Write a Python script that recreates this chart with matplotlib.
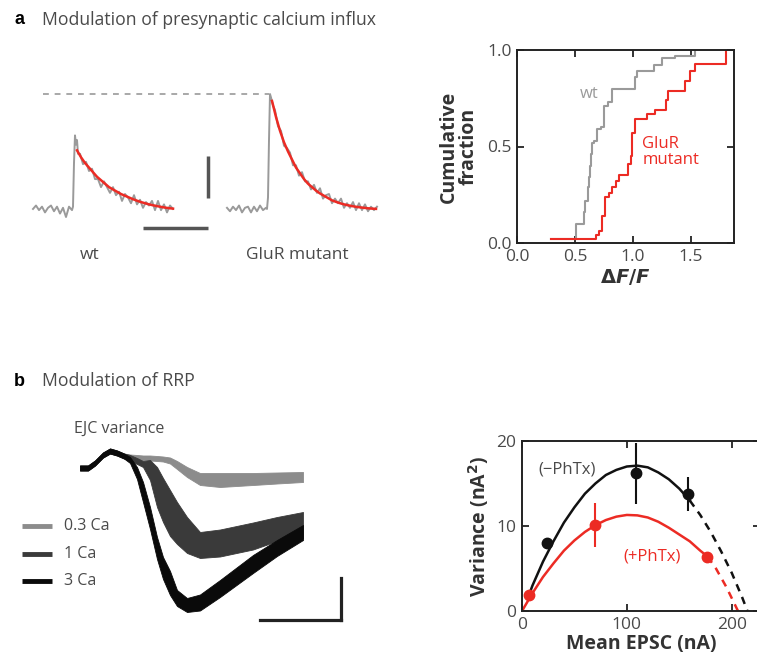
import numpy as np
import matplotlib
matplotlib.use("Agg")
import matplotlib.pyplot as plt

plt.rcParams['font.family'] = ['Open Sans', 'DejaVu Sans']

W, H = 757, 662
TXT = '#4a4a4a'
RED = '#ec2b24'
GRAY = '#9a9a9a'

# ---- panel a, traces (t relative to stimulus, amplitude normalised to mutant peak)
wt_t = [-40, -37, -34, -31, -28, -25, -22, -19, -16, -13, -10, -7, -4, -1,
        0, 1, 2, 3, 4, 5,
        7, 10, 13, 16, 19, 22, 25, 28, 31, 34, 37, 40, 43, 46, 49, 52, 55, 58,
        61, 64, 67, 70, 73, 76, 79, 82, 85, 88, 91, 94, 97, 100]
wt_amp = [0.00, 0.03, -0.01, 0.02, -0.03, 0.01, 0.03, -0.02, 0.02, -0.04, 0.01, -0.07, 0.02, -0.01,
          0.02, 0.40, 0.64, 0.56, 0.60, 0.48,
          0.48, 0.39, 0.41, 0.33, 0.35, 0.26, 0.26, 0.19, 0.24, 0.19, 0.14, 0.19, 0.12, 0.15,
          0.07, 0.13, 0.10, 0.05, 0.12, 0.04, 0.08, 0.01, 0.06, 0.03, 0.07, -0.01, 0.07,
          -0.01, 0.04, -0.03, 0.03, 0.00]
wt_fit_t = [4, 8, 12, 16, 20, 24, 28, 32, 36, 40, 44, 48, 52, 56, 60, 64, 68, 72, 76,
            80, 84, 88, 92, 96, 100]
wt_fit = [0.51, 0.45, 0.40, 0.36, 0.32, 0.28, 0.25, 0.22, 0.19, 0.17, 0.15, 0.13, 0.115,
          0.10, 0.085, 0.072, 0.06, 0.05, 0.04, 0.032, 0.025, 0.018, 0.012, 0.007, 0.003]

mut_t = [-41, -38, -35, -32, -29, -26, -23, -20, -17, -14, -11, -8, -5, -2,
         -1, 0, 1, 2, 3, 5,
         7, 10, 13, 16, 19, 22, 25, 28, 31, 34, 37, 40, 43, 46, 49, 52, 55, 58, 61,
         64, 67, 70, 73, 76, 79, 82, 85, 88, 91, 94, 97, 100, 103, 106, 109]
mut_amp = [0.01, -0.02, 0.02, -0.01, 0.03, -0.03, 0.01, 0.02, -0.03, 0.02, -0.02, 0.03, -0.01, 0.01,
           0.00, 0.10, 0.60, 1.00, 0.97, 0.90,
           0.86, 0.72, 0.68, 0.55, 0.53, 0.49, 0.38, 0.38, 0.29, 0.32, 0.24, 0.24, 0.17, 0.21,
           0.14, 0.18, 0.09, 0.12, 0.13, 0.05, 0.09, 0.05, 0.09, 0.01, 0.05, 0.01, 0.06,
           -0.01, 0.05, -0.01, 0.04, -0.02, 0.02, -0.01, 0.02]
mut_fit_t = [4, 8, 12, 16, 20, 24, 28, 32, 36, 40, 44, 48, 52, 56, 60, 64, 68, 72, 76,
             80, 84, 88, 92, 96, 100, 104, 108]
mut_fit = [0.94, 0.80, 0.68, 0.58, 0.50, 0.43, 0.36, 0.31, 0.26, 0.22, 0.19, 0.16, 0.135,
           0.115, 0.095, 0.075, 0.062, 0.05, 0.04, 0.032, 0.025, 0.019, 0.014, 0.01, 0.006,
           0.003, 0.001]

# ---- panel a, cumulative distributions of dF/F
wt_x = [0.29, 0.51, 0.58, 0.59, 0.61, 0.62, 0.63, 0.64, 0.65, 0.66, 0.69, 0.72, 0.75, 0.78,
        0.82, 1.02, 1.03, 1.18, 1.25, 1.36, 1.53]
wt_y = [0.02, 0.10, 0.16, 0.22, 0.29, 0.34, 0.40, 0.46, 0.52, 0.53, 0.59, 0.60, 0.71, 0.73,
        0.80, 0.86, 0.89, 0.92, 0.96, 0.97, 1.00]
mut_x = [0.29, 0.68, 0.71, 0.735, 0.76, 0.79, 0.82, 0.85, 0.88, 0.96, 0.98, 0.99, 1.02, 1.12,
         1.19, 1.28, 1.30, 1.45, 1.49, 1.53, 1.80]
mut_y = [0.02, 0.04, 0.06, 0.14, 0.24, 0.26, 0.29, 0.32, 0.35, 0.41, 0.45, 0.57, 0.64, 0.67,
         0.69, 0.74, 0.79, 0.84, 0.89, 0.93, 1.00]

# ---- panel b, EJC variance bands (centre, half width)
ejc_t = [80, 88, 95, 103, 110, 117, 124, 130, 137, 143, 150, 157, 163, 170, 177, 187, 200,
         220, 253, 277, 303]
ca03_c = [0, 0, 5, 13, 17, 15, 12, 11, 10.5, 10, 10, 9.5, 9, 7.5, 3, -4, -11, -12, -11, -10, -9]
ca03_w = [2.5, 2.5, 2.5, 2.5, 2.5, 2.5, 2.5, 2.5, 2.5, 2.5, 2.5, 2.5, 2.5, 3, 4, 5, 6, 7, 6, 5.5, 5]
ca1_c = [0, 0, 5, 13, 17, 15, 12, 10, 7, 4, -2, -19, -32, -45, -55, -67, -77, -75, -68, -61, -57]
ca1_w = [2.5, 2.5, 2.5, 2.5, 2.5, 2.5, 2.5, 3, 3, 3, 10, 20, 22, 23, 21, 18, 13, 13.5, 13.5, 12, 13]
ca3_c = [0, 0, 5, 13, 17, 15, 12, 8, -5, -24, -50, -80, -100, -115, -130, -137, -134.5,
         -120.5, -96, -80, -64.5]
ca3_w = [2.5, 2.5, 2.5, 2.5, 2.5, 2.5, 2.5, 3, 6, 10, 11, 11, 11, 12, 8, 7, 8, 8.5, 9, 8, 7.5]
ca_labels = ['0.3 Ca', '1 Ca', '3 Ca']
ca_colors = ['#8c8c8c', '#3a3a3a', '#0a0a0a']

# ---- panel b, variance-mean
blk_mean = [23.5, 109, 158.4]
blk_var = [8.0, 16.2, 13.8]
blk_err = [0.0, 3.6, 2.0]
red_mean = [7, 69.5, 176.8]
red_var = [1.9, 10.1, 6.4]
red_err = [0.0, 2.6, 0.0]
blk_fit_x = [7, 10, 20, 30, 40, 50, 60, 70, 80, 90, 100, 110, 120, 130, 140, 150, 160]
blk_fit_y = [2.0, 3.0, 5.8, 8.2, 10.4, 12.2, 13.8, 15.0, 16.0, 16.6, 17.0, 17.1, 16.9, 16.3,
             15.5, 14.4, 13.0]
blk_ext_x = [160, 170, 180, 190, 200, 210, 215]
blk_ext_y = [13.0, 11.3, 9.3, 7.0, 4.5, 1.6, 0.0]
red_fit_x = [0, 10, 20, 30, 40, 50, 60, 70, 80, 90, 100, 110, 120, 130, 140, 150, 160, 170, 177]
red_fit_y = [0, 2.1, 4.0, 5.6, 7.1, 8.3, 9.3, 10.1, 10.7, 11.1, 11.3, 11.25, 11.0, 10.5, 9.8,
             9.0, 8.2, 7.1, 6.4]
red_ext_x = [177, 185, 195, 206]
red_ext_y = [6.4, 5.0, 2.8, 0.0]


def px_axes(fig, x0, y0, x1, y1):
    return fig.add_axes([x0 / W, 1 - y1 / H, (x1 - x0) / W, (y1 - y0) / H])


def style_box(ax):
    for s in ax.spines.values():
        s.set_linewidth(1.4)
        s.set_color('#222222')
    ax.tick_params(direction='in', length=5, width=1.3, top=True, right=True,
                   labelsize=12.5, labelcolor=TXT, pad=4, color='#222222')


fig = plt.figure(figsize=(W / 100, H / 100), dpi=100)

fig.text(14 / W, 1 - 20 / H, 'a', fontsize=13, fontweight='bold', family='Liberation Sans',
         va='center', color='black')
fig.text(42 / W, 1 - 20 / H, 'Modulation of presynaptic calcium influx', fontsize=12.7,
         va='center', color=TXT)
fig.text(14 / W, 1 - 381 / H, 'b', fontsize=13, fontweight='bold', family='Liberation Sans',
         va='center', color='black')
fig.text(42 / W, 1 - 381 / H, 'Modulation of RRP', fontsize=12.7, va='center', color=TXT)

# traces of panel a
ax = px_axes(fig, 25, 80, 395, 240)
ax.set_xlim(0, 370)
ax.set_ylim(-0.27, 1.122)
ax.axis('off')
wt0, mut0 = 48, 243
ax.plot([t + wt0 for t in wt_t], wt_amp, color=GRAY, lw=1.4)
ax.plot([t + wt0 for t in wt_fit_t], wt_fit, color=RED, lw=1.8)
ax.plot([t + mut0 for t in mut_t], mut_amp, color=GRAY, lw=1.4)
ax.plot([t + mut0 for t in mut_fit_t], mut_fit, color=RED, lw=1.8)
ax.plot([18, mut0 + 1], [1.0, 1.0], color='#a8a8a8', lw=1.4, ls=(0, (3, 3)))
ax.plot([183, 183], [0.096, 0.46], color='#555555', lw=2.5, solid_capstyle='butt')
ax.plot([118, 183], [-0.165, -0.165], color='#555555', lw=2.5, solid_capstyle='butt')
fig.text(90 / W, 1 - 255 / H, 'wt', fontsize=12.5, ha='center', va='center', color=TXT)
fig.text(297 / W, 1 - 255 / H, 'GluR mutant', fontsize=12.5, ha='center', va='center', color=TXT)

# cumulative fraction
ax = px_axes(fig, 517, 50, 734, 243)
ax.step(wt_x, wt_y, where='post', color=GRAY, lw=1.5)
ax.step(mut_x, mut_y, where='post', color=RED, lw=1.5)
ax.set_xlim(0, 1.87)
ax.set_ylim(0, 1.0)
ax.set_xticks([0, 0.5, 1.0, 1.5])
ax.set_yticks([0, 0.5, 1.0])
ax.set_xticklabels(['0.0', '0.5', '1.0', '1.5'])
ax.set_yticklabels(['0.0', '0.5', '1.0'])
style_box(ax)
ax.set_xlabel(r'$\mathbf{\Delta}\boldsymbol{F/F}$', fontsize=14, color='#333333', labelpad=2)
ax.set_ylabel('Cumulative\nfraction', fontsize=14, fontweight='bold', color='#333333',
              linespacing=0.95, labelpad=6)
ax.text(0.62, 0.77, 'wt', fontsize=12, color=GRAY, ha='center', va='center')
ax.text(1.08, 0.47, 'GluR\nmutant', fontsize=12, color=RED, ha='left', va='center',
        linespacing=1.0)

# EJC variance
ax = px_axes(fig, 0, 410, 350, 640)
ax.set_xlim(0, 350)
ax.set_ylim(-172, 58)
ax.axis('off')
for cen, hw, col in [(ca03_c, ca03_w, ca_colors[0]), (ca1_c, ca1_w, ca_colors[1]),
                     (ca3_c, ca3_w, ca_colors[2])]:
    cen = np.array(cen)
    hw = np.array(hw)
    ax.fill_between(ejc_t, cen - hw, cen + hw, color=col, lw=0.6, ec=col)
for i, (lab, col) in enumerate(zip(ca_labels, ca_colors)):
    yy = -58 - 27.5 * i
    ax.plot([22, 52], [yy, yy], color=col, lw=3.5, solid_capstyle='butt')
    ax.text(64, yy, lab, fontsize=11.5, color=TXT, va='center')
ax.text(74, 39, 'EJC variance', fontsize=11.5, color=TXT, va='center')
ax.plot([341, 341], [-110, -152], color='#222222', lw=2.3, solid_capstyle='projecting')
ax.plot([260, 341], [-152, -152], color='#222222', lw=2.3, solid_capstyle='projecting')

# variance-mean
ax = px_axes(fig, 522, 441, 760, 611)
ax.plot(blk_fit_x, blk_fit_y, color='#111111', lw=1.8)
ax.plot(blk_ext_x, blk_ext_y, color='#111111', lw=1.8, ls=(0, (3, 2.5)))
ax.plot(red_fit_x, red_fit_y, color=RED, lw=1.8)
ax.plot(red_ext_x, red_ext_y, color=RED, lw=1.8, ls=(0, (3, 2.5)))
ax.errorbar(blk_mean, blk_var, yerr=blk_err, fmt='o', color='#111111', ms=7.5,
            elinewidth=1.5, capsize=0, zorder=5)
ax.errorbar(red_mean, red_var, yerr=red_err, fmt='o', color=RED, ms=7.5,
            elinewidth=1.5, capsize=0, zorder=5)
ax.set_xlim(0, 227)
ax.set_ylim(0, 20)
ax.set_xticks([0, 100, 200])
ax.set_yticks([0, 10, 20])
style_box(ax)
ax.set_xlabel('Mean EPSC (nA)', fontsize=14, fontweight='bold', color='#333333', labelpad=1)
ax.set_ylabel('Variance (nA$^\\mathbf{2}$)', fontsize=14, fontweight='bold', color='#333333',
              labelpad=4)
ax.text(43, 16.6, '(\u2212PhTx)', fontsize=12, color=TXT, ha='center', va='center')
ax.text(124, 6.4, '(+PhTx)', fontsize=12, color=RED, ha='center', va='center')

fig.savefig('out.png', dpi=100)
